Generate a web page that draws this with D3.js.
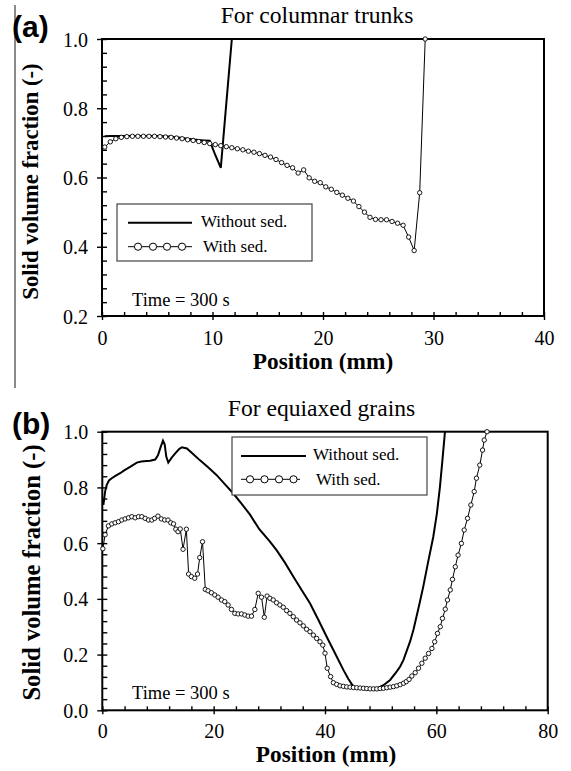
<!DOCTYPE html>
<html><head><meta charset="utf-8">
<script src="https://cdn.jsdelivr.net/npm/d3@7"></script>
<style>
body{margin:0;background:#fff} svg{display:block}
.serif{font-family:"Liberation Serif",Tinos,"Times New Roman",Times,serif}
.sans{font-family:"Liberation Sans",Arimo,Arial,sans-serif}
</style>
</head><body>
<svg id="c" width="571" height="771"></svg>
<script>
// ---------- Panel (a): columnar trunks ----------
const aTitle = "For columnar trunks";
const aXTicks = [0, 10, 20, 30, 40];
const aYTicks = [0.2, 0.4, 0.6, 0.8, 1.0];
const aWithoutX = [0.25,0.75,1.25,1.75,2.25,2.75,3.25,3.75,4.25,4.75,5.25,5.75,6.25,6.75,7.25,7.75,8.25,8.75,9.25,9.75,10.25,10.75,11.25,11.75];
const aWithoutY = [0.719,0.720,0.720,0.720,0.720,0.720,0.720,0.720,0.720,0.720,0.720,0.719,0.718,0.716,0.714,0.712,0.710,0.708,0.707,0.706,0.665,0.628,0.814,1.0];
const aWithX = [0.25,0.75,1.25,1.75,2.25,2.75,3.25,3.75,4.25,4.75,5.25,5.75,6.25,6.75,7.25,7.75,8.25,8.75,9.25,9.75,10.25,10.75,11.25,11.75,12.25,12.75,13.25,13.75,14.25,14.75,15.25,15.75,16.25,16.75,17.25,17.75,18.25,18.75,19.25,19.75,20.25,20.75,21.25,21.75,22.25,22.75,23.25,23.75,24.25,24.75,25.25,25.75,26.25,26.75,27.25,27.75,28.25,28.75,29.25];
const aWithY = [0.688,0.703,0.712,0.716,0.718,0.719,0.719,0.719,0.719,0.719,0.718,0.717,0.716,0.714,0.712,0.709,0.707,0.704,0.701,0.698,0.695,0.692,0.689,0.686,0.683,0.680,0.676,0.673,0.669,0.664,0.659,0.652,0.643,0.635,0.628,0.613,0.622,0.599,0.589,0.585,0.573,0.566,0.557,0.549,0.540,0.532,0.516,0.500,0.485,0.479,0.478,0.478,0.473,0.468,0.462,0.428,0.389,0.556,1.0];

// ---------- Panel (b): equiaxed grains ----------
const bTitle = "For equiaxed grains";
const bXTicks = [0, 20, 40, 60, 80];
const bYTicks = [0.0, 0.2, 0.4, 0.6, 0.8, 1.0];
const bWithoutX = [0.2,0.5,0.8,1.2,1.7,2.5,3.2,4.0,5.0,6.2,7.0,8.0,8.6,9.5,10.0,10.4,10.9,11.2,11.5,11.85,12.4,13.1,13.8,14.3,15.2,16.3,17.5,19.0,20.5,22.0,23.5,25.0,26.5,28.2,30.0,31.3,32.8,34.3,35.8,37.3,38.8,40.3,41.8,43.3,44.2,45.1,46.0,47.0,48.0,49.3,50.5,51.7,52.9,53.5,54.1,55.3,55.9,57.0,57.65,58.5,59.45,60.1,60.65,61.1,61.55];
const bWithoutY = [0.737,0.785,0.809,0.825,0.833,0.843,0.851,0.862,0.874,0.889,0.893,0.895,0.896,0.900,0.915,0.940,0.968,0.955,0.910,0.889,0.905,0.922,0.938,0.944,0.940,0.920,0.898,0.872,0.845,0.812,0.779,0.742,0.703,0.650,0.608,0.575,0.530,0.480,0.432,0.384,0.325,0.264,0.205,0.145,0.112,0.085,0.080,0.078,0.077,0.079,0.090,0.109,0.140,0.157,0.181,0.248,0.290,0.385,0.444,0.530,0.623,0.707,0.803,0.900,1.0];
const bWithX = [0.1,0.5,1.1,1.7,2.3,2.9,3.5,4.1,4.7,5.3,5.9,6.5,7.1,7.7,8.3,8.9,9.4,10.0,10.6,11.2,11.8,12.3,12.8,13.2,13.6,14.0,14.5,15.1,15.5,16.0,16.6,17.1,17.5,18.0,18.5,19.0,19.6,20.2,20.8,21.4,22.0,22.6,23.2,23.8,24.4,25.0,25.6,26.2,26.8,27.4,28.0,28.6,29.1,29.6,30.1,30.7,31.3,31.9,32.5,33.1,33.7,34.3,34.9,35.5,36.1,36.7,37.3,37.9,38.5,39.1,39.6,40.0,40.4,41.0,41.5,42.1,42.7,43.3,43.9,44.5,45.1,45.7,46.3,46.9,47.5,48.1,48.7,49.3,49.9,50.5,51.1,51.7,52.3,52.9,53.5,54.1,54.6,55.1,55.6,56.2,56.8,57.4,58.0,58.6,59.2,59.7,60.2,60.7,61.1,61.6,62.0,62.5,62.9,63.4,63.9,64.5,65.0,65.6,66.2,66.8,67.2,67.8,68.3,68.6,69.1];
const bWithY = [0.58,0.63,0.662,0.669,0.673,0.677,0.683,0.687,0.691,0.695,0.691,0.695,0.695,0.689,0.683,0.683,0.689,0.697,0.687,0.683,0.683,0.673,0.669,0.650,0.641,0.651,0.578,0.650,0.489,0.480,0.474,0.489,0.548,0.605,0.434,0.429,0.422,0.414,0.406,0.396,0.390,0.378,0.362,0.348,0.346,0.346,0.342,0.338,0.338,0.362,0.420,0.406,0.334,0.410,0.402,0.396,0.386,0.378,0.370,0.358,0.348,0.336,0.324,0.314,0.303,0.291,0.282,0.270,0.258,0.246,0.234,0.205,0.151,0.121,0.099,0.093,0.088,0.086,0.084,0.083,0.082,0.081,0.080,0.079,0.078,0.077,0.077,0.077,0.078,0.079,0.081,0.083,0.085,0.088,0.092,0.097,0.103,0.111,0.123,0.135,0.151,0.169,0.187,0.204,0.222,0.246,0.276,0.300,0.330,0.363,0.396,0.432,0.470,0.515,0.557,0.599,0.647,0.689,0.737,0.785,0.833,0.880,0.934,0.970,1.0];

const seriesNames = ["Without sed.", "With sed."];
const yTitle = "Solid volume fraction (-)";
const xTitle = "Position (mm)";
const timeLabel = "Time = 300 s";

const svg = d3.select('#c');

// gray separator bar at left
svg.append('line').attr('x1',15).attr('x2',15).attr('y1',5).attr('y2',388)
  .attr('stroke','#8a8a8a').attr('stroke-width',2);

function panel(o) {
  const x = d3.scaleLinear().domain(o.xDomain).range([o.left, o.right]);
  const y = d3.scaleLinear().domain(o.yDomain).range([o.bottom, o.top]);
  const g = svg.append('g');
  const id = 'clip' + o.tag;
  svg.append('defs').append('clipPath').attr('id', id)
    .append('rect').attr('x', o.left).attr('y', o.top - 4)
    .attr('width', o.right - o.left).attr('height', o.bottom - o.top + 4);

  const gxm = g.append('g').attr('transform', `translate(0,${o.bottom})`)
    .call(d3.axisBottom(x).tickValues(o.xMinor).tickSize(-4).tickFormat(''));
  const gxM = g.append('g').attr('transform', `translate(0,${o.bottom})`)
    .call(d3.axisBottom(x).tickValues(o.xTicks).tickSize(4).tickFormat(d3.format('d')));
  const gym = g.append('g').attr('transform', `translate(${o.left},0)`)
    .call(d3.axisLeft(y).tickValues(o.yMinor).tickSize(-5).tickFormat(''));
  const gyM = g.append('g').attr('transform', `translate(${o.left},0)`)
    .call(d3.axisLeft(y).tickValues(o.yTicks).tickSize(5).tickFormat(d3.format('.1f')));
  [gxm, gxM, gym, gyM].forEach(a => {
    a.attr('font-family', null).attr('font-size', null);
    a.select('.domain').remove();
    a.selectAll('line').attr('stroke', '#000').attr('stroke-width', 1.4);
  });
  gxM.selectAll('text').attr('class', 'serif').attr('y', o.xLabelDy).attr('dy', 0)
    .style('font-size', '20px').attr('fill', '#000');
  gyM.selectAll('text').attr('class', 'serif').attr('x', -14).attr('dy', 0).attr('y', 7)
    .style('font-size', '20px').attr('fill', '#000');

  g.append('rect').attr('x', o.left).attr('y', o.top)
    .attr('width', o.right - o.left).attr('height', o.bottom - o.top)
    .attr('fill', 'none').attr('stroke', '#000').attr('stroke-width', 2);

  const line = d3.line().x(d => x(d[0])).y(d => y(d[1]));
  const without = o.withoutX.map((v, i) => [v, o.withoutY[i]]);
  const withs = o.withX.map((v, i) => [v, o.withY[i]]);
  const pg = g.append('g').attr('clip-path', `url(#${id})`);
  pg.append('path').attr('d', line(withs)).attr('fill', 'none')
    .attr('stroke', '#000').attr('stroke-width', 1);
  svg.append('g').selectAll('circle').data(withs).join('circle')
    .attr('cx', d => x(d[0])).attr('cy', d => y(d[1])).attr('r', 2.2)
    .attr('fill', '#fff').attr('stroke', '#000').attr('stroke-width', 0.9);
  pg.append('path').attr('d', line(without)).attr('fill', 'none')
    .attr('stroke', '#000').attr('stroke-width', 2);

  svg.append('text').attr('class', 'serif').attr('x', o.titleX).attr('y', o.titleY)
    .attr('text-anchor', 'middle').style('font-size', '23.6px').text(o.title);
  svg.append('text').attr('class', 'serif').attr('x', o.xTitleX).attr('y', o.xTitleY)
    .attr('text-anchor', 'middle').style('font-size', '23.3px').style('font-weight', 'bold').text(xTitle);
  svg.append('text').attr('class', 'serif')
    .attr('transform', `translate(${o.yTitleX},${o.yTitleY}) rotate(-90)`)
    .attr('text-anchor', 'middle').style('font-size', o.yTitleSize + 'px')
    .style('font-weight', 'bold').text(yTitle);
  svg.append('text').attr('class', 'sans').attr('x', 12).attr('y', o.tagY)
    .style('font-size', '30px').style('font-weight', 'bold').text(o.tagText);
  svg.append('text').attr('class', 'serif').attr('x', 132).attr('y', o.timeY)
    .style('font-size', '18.5px').text(timeLabel);

  const L = o.legend;
  svg.append('rect').attr('x', L.x).attr('y', L.y).attr('width', L.w).attr('height', L.h)
    .attr('fill', '#fff').attr('stroke', '#444').attr('stroke-width', 1.2);
  svg.append('line').attr('x1', L.lx1).attr('x2', L.lx2).attr('y1', L.y1).attr('y2', L.y1)
    .attr('stroke', '#000').attr('stroke-width', 2);
  svg.append('line').attr('x1', L.lx1).attr('x2', L.lx2b).attr('y1', L.y2).attr('y2', L.y2)
    .attr('stroke', '#000').attr('stroke-width', 1);
  L.cx.forEach(c => svg.append('circle').attr('cx', c).attr('cy', L.y2).attr('r', 3.6)
    .attr('fill', '#fff').attr('stroke', '#000').attr('stroke-width', 1));
  svg.append('text').attr('class', 'serif').attr('x', L.tx1).attr('y', L.ty1)
    .style('font-size', '17px').text(seriesNames[0]);
  svg.append('text').attr('class', 'serif').attr('x', L.tx2).attr('y', L.ty2)
    .style('font-size', '17px').text(seriesNames[1]);
}

panel({
  tag: 'a', tagText: '(a)', tagY: 37, title: aTitle, titleX: 317, titleY: 23,
  xDomain: [0, 40], yDomain: [0.2, 1.0],
  left: 102, right: 544, top: 39, bottom: 316,
  xTicks: aXTicks, yTicks: aYTicks,
  xMinor: d3.range(0, 40.001, 2), yMinor: d3.range(0.2, 1.0001, 0.04),
  xLabelDy: 29, xTitleX: 323, xTitleY: 369,
  yTitleX: 38, yTitleY: 181.5, yTitleSize: 22.7, timeY: 306,
  withoutX: aWithoutX, withoutY: aWithoutY, withX: aWithX, withY: aWithY,
  legend: { x: 117, y: 204, w: 195, h: 57, lx1: 128, lx2: 192, lx2b: 192, y1: 222.7, y2: 246.7,
            cx: [138, 153, 167, 182], tx1: 201, ty1: 227, tx2: 203, ty2: 252 }
});

panel({
  tag: 'b', tagText: '(b)', tagY: 434, title: bTitle, titleX: 321.5, titleY: 416,
  xDomain: [0, 80], yDomain: [0.0, 1.0],
  left: 102.3, right: 547.7, top: 431.7, bottom: 710.3,
  xTicks: bXTicks, yTicks: bYTicks,
  xMinor: d3.range(0, 80.001, 4), yMinor: d3.range(0, 1.0001, 0.04),
  xLabelDy: 28, xTitleX: 326, xTitleY: 762,
  yTitleX: 39.5, yTitleY: 572.5, yTitleSize: 24.6, timeY: 699,
  withoutX: bWithoutX, withoutY: bWithoutY, withX: bWithX, withY: bWithY,
  legend: { x: 232, y: 437, w: 195, h: 58, lx1: 241, lx2: 306, lx2b: 300, y1: 456, y2: 479.3,
            cx: [250, 264.5, 279, 293.5], tx1: 313, ty1: 460, tx2: 316, ty2: 485 }
});
</script>
</body></html>
